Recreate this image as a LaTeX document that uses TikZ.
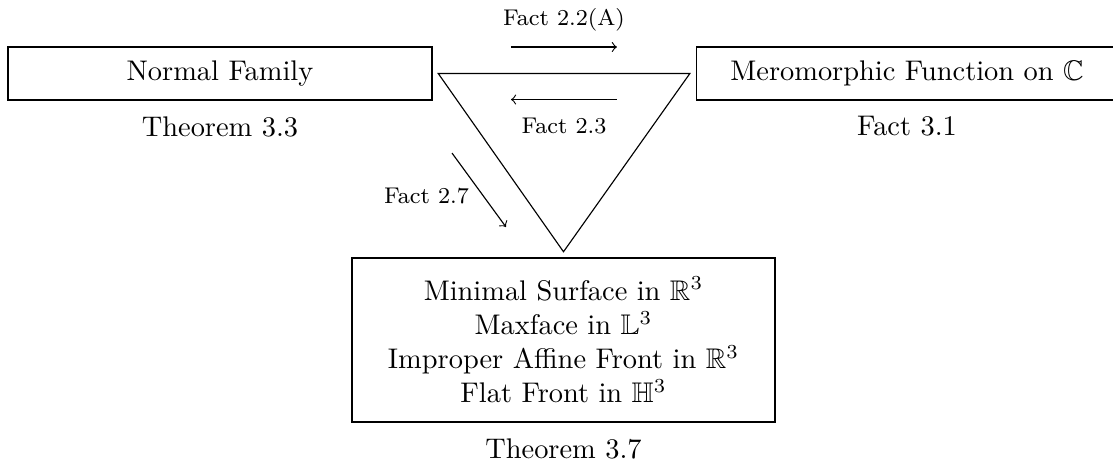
\documentclass[tikz,border=0pt]{standalone}
\usepackage{amssymb}
\usetikzlibrary{positioning}
\tikzset{
  box/.style={
    draw, rectangle, align=center,
    minimum height=0.656cm
  },
  fact/.style={
    font=\footnotesize
  },
  ref/.style={
    align=center
  }
}

\begin{document}
\begin{tikzpicture}
  \useasboundingbox (0,0) rectangle (13.775,-5.705);
  \node[box, minimum width=5.248cm] (normal) at (2.723,-0.910) {Normal Family};
  \node[box, minimum width=5.22cm] (mero) at (11.225,-0.910) {Meromorphic Function on $\mathbb{C}$};
  \node[box, minimum width=5.235cm, minimum height=2.03cm] (surf) at (6.974,-4.208) {%
    Minimal Surface in $\mathbb{R}^3$\\ Maxface in $\mathbb{L}^3$\\
    Improper Affine Front in $\mathbb{R}^3$\\ Flat Front in $\mathbb{H}^3$};
  \node[ref, below=2pt of normal] (thmnormal) {Theorem 3.3};
  \node[ref, below=2pt of mero] (factmero) {Fact 3.1};
  \node[ref, below=2pt of surf] (thmsurf) {Theorem 3.7};
  % triangle between the three boxes
  \draw ([xshift=2pt]normal.east) -- ([xshift=-2pt]mero.west) -- ([yshift=2pt]surf.north) -- cycle;
  \coordinate (ta) at (6.324,-0.582);
  \coordinate (tb) at (7.636,-0.582);
  \coordinate (ba) at (7.636,-1.232);
  \coordinate (bb) at (6.324,-1.232);
  \coordinate (da) at (5.594,-1.894);
  \coordinate (db) at (6.262,-2.809);
  \draw[->] (ta) -- (tb) node (f22) [fact, midway, above=2pt] {Fact 2.2(A)};
  \draw[->] (ba) -- (bb) node (f23) [fact, midway, below=3pt] {Fact 2.3};
  \draw[->] (da) -- (db) node (f27) [fact, midway, left, yshift=-2pt] {Fact 2.7};
\end{tikzpicture}
\end{document}
